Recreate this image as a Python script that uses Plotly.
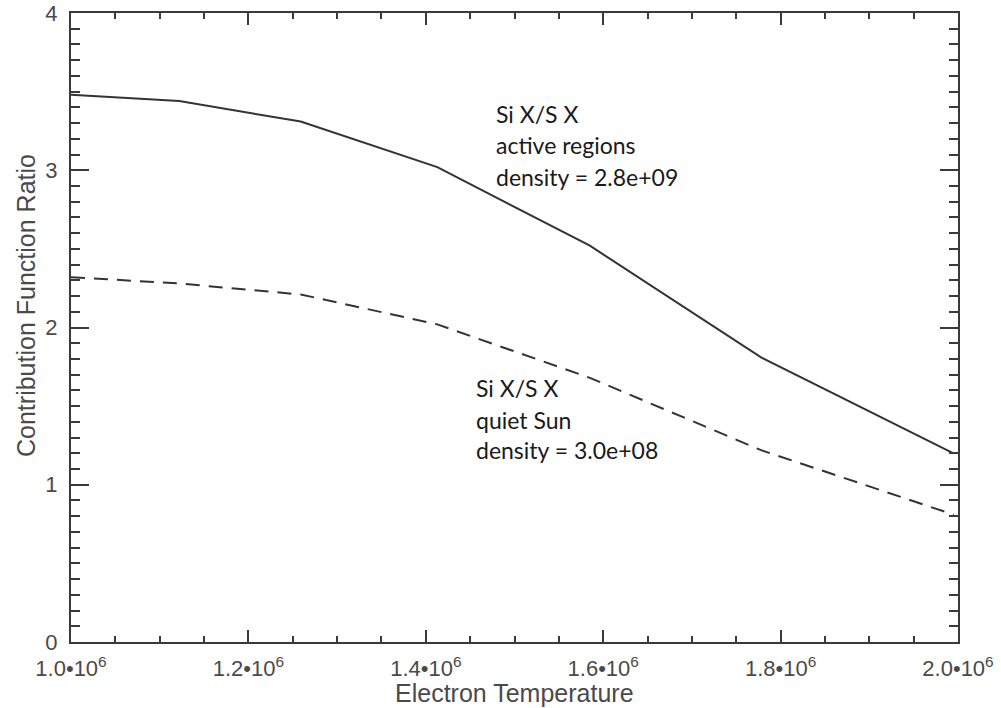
import plotly.graph_objects as go

# Electron temperature grid (log T = 6.00 ... 6.30 step 0.05)
temperature = [1.000e6, 1.122e6, 1.259e6, 1.413e6, 1.585e6, 1.778e6, 1.995e6]
ratio_active = [3.48, 3.44, 3.31, 3.02, 2.52, 1.81, 1.20]
ratio_quiet = [2.32, 2.28, 2.21, 2.02, 1.68, 1.22, 0.81]

x_tickvals = [1.0e6, 1.2e6, 1.4e6, 1.6e6, 1.8e6, 2.0e6]
x_ticktext = ["1.0•10<sup>6</sup>", "1.2•10<sup>6</sup>", "1.4•10<sup>6</sup>",
              "1.6•10<sup>6</sup>", "1.8•10<sup>6</sup>", "2.0•10<sup>6</sup>"]
y_tickvals = [0, 1, 2, 3, 4]

active_text = ["Si X/S X", "active regions", "density = 2.8e+09"]
quiet_text = ["Si X/S X", "quiet Sun", "density = 3.0e+08"]

x_title = "Electron Temperature"
y_title = "Contribution Function Ratio"

AX = "#3a3a3a"
TXT = "#4a4a4a"

fig = go.Figure()
fig.add_trace(go.Scatter(x=temperature, y=ratio_active, mode="lines",
                         line=dict(color="#333333", width=2), showlegend=False))
fig.add_trace(go.Scatter(x=temperature, y=ratio_quiet, mode="lines",
                         line=dict(color="#333333", width=2, dash="14px,9px"),
                         showlegend=False))

W, H = 1001, 708
L, T = 71, 13
pw, ph = 887, 629
R, B = W - L - pw, H - T - ph

def px_x(px):
    return (px - L) / pw

def px_y(py):
    return (H - B - py) / ph

ann = []
for t, cy in zip(active_text, [114.5, 145.5, 176.5]):
    ann.append(dict(text=t, x=px_x(494), y=px_y(cy), xref="paper", yref="paper",
                    xanchor="left", yanchor="middle", showarrow=False,
                    font=dict(family="Lato", size=23, color="#1a1a1a")))
for t, cy in zip(quiet_text, [387.5, 419.5, 449.5]):
    ann.append(dict(text=t, x=px_x(474), y=px_y(cy), xref="paper", yref="paper",
                    xanchor="left", yanchor="middle", showarrow=False,
                    font=dict(family="Lato", size=23, color="#1a1a1a")))
ann.append(dict(text=y_title, x=px_x(26), y=px_y(306), xref="paper", yref="paper",
                xanchor="center", yanchor="middle", showarrow=False, textangle=-90,
                font=dict(family="Liberation Sans", size=25, color=TXT)))
ann.append(dict(text=x_title, x=px_x(514), y=px_y(693), xref="paper", yref="paper",
                xanchor="center", yanchor="middle", showarrow=False,
                font=dict(family="Liberation Sans", size=25, color=TXT)))

fig.update_layout(
    width=W, height=H,
    margin=dict(l=L, r=R, t=T, b=B, autoexpand=False),
    paper_bgcolor="white", plot_bgcolor="white",
    annotations=ann,
    font=dict(family="Liberation Sans", color=TXT),
)
fig.update_xaxes(
    range=[1.0e6, 2.0e6], tickvals=x_tickvals, ticktext=x_ticktext,
    ticks="inside", ticklen=12, tickwidth=2, tickcolor=AX,
    showline=True, linecolor=AX, linewidth=2, mirror="ticks",
    showgrid=False, zeroline=False, automargin=False,
    tickfont=dict(family="Liberation Sans", size=22, color=TXT),
    ticklabelstandoff=6, ticklabeloverflow="allow",
    minor=dict(ticks="inside", ticklen=6, tickwidth=2, tickcolor=AX, dtick=0.05e6,
               tick0=1.0e6, showgrid=False),
)
fig.update_yaxes(
    range=[0, 4], tickvals=y_tickvals,
    ticks="inside", ticklen=18, tickwidth=2, tickcolor=AX,
    showline=True, linecolor=AX, linewidth=2, mirror="ticks",
    showgrid=False, zeroline=False, automargin=False,
    tickfont=dict(family="Liberation Sans", size=22, color=TXT),
    ticklabelstandoff=7, ticklabeloverflow="allow",
    minor=dict(ticks="inside", ticklen=9, tickwidth=2, tickcolor=AX, dtick=0.1,
               tick0=0, showgrid=False),
)

fig.write_html("out.html",
               config={"displayModeBar": False, "staticPlot": True},
               post_script="document.body.style.margin='0';document.body.style.overflow='hidden';")
